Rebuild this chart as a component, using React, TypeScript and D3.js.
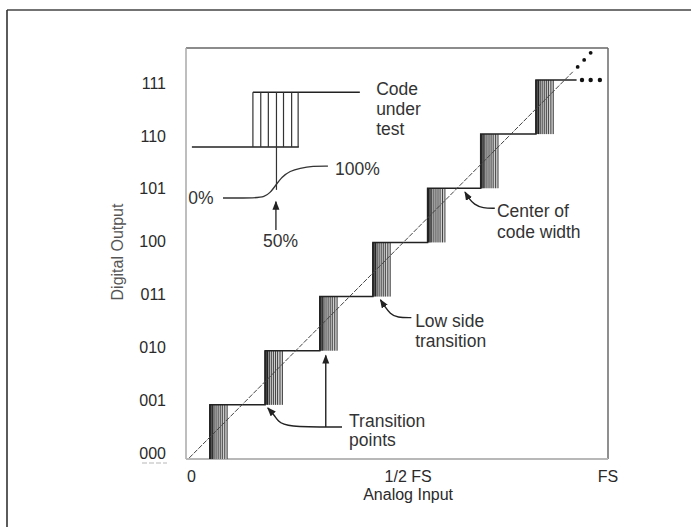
import React from "react";
import * as d3 from "d3";

// ---- data (x in LSB units of analog input, y in output code units) ----
const codeLabels = ["000", "001", "010", "011", "100", "101", "110", "111"];
const xTickLabels = ["0", "1/2 FS", "FS"];
const xTickValues = [0, 4, 7.69];
const transitionStarts = [0.34, 1.36, 2.37, 3.35, 4.36, 5.34, 6.36];
const transitionWidth = 0.32;
const hatchFractions = [0, 0.06, 0.14, 0.24, 0.36, 0.48, 0.6, 0.72, 0.86, 1.0];
const lastLevelEnd = 7.11;
const idealLine: [number, number][] = [[-0.04, 0.02], [7.04, 7.15]];
const extrapolationDots: [number, number][] = [[7.13, 7.24], [7.25, 7.37], [7.37, 7.5]];
const levelDots: [number, number][] = [[7.21, 7.0], [7.37, 7.0], [7.54, 7.0]];

// inset "code under test"
const insetUpper: [number, number][] = [[1.135, 6.775], [3.109, 6.775]];
const insetLower: [number, number][] = [[0.009, 5.76], [1.983, 5.76]];
const insetVerticals = [1.135, 1.28, 1.42, 1.57, 1.7, 1.85, 1.97];
const insetCenter = 1.57;
const insetCenterBottom = 4.97;
const insetCurve: [number, number][] = [
  [0.583, 4.82], [1.211, 4.82], [1.34, 4.84], [1.45, 4.91], [1.56, 5.06],
  [1.67, 5.21], [1.82, 5.32], [2.0, 5.37], [2.24, 5.41], [2.52, 5.41],
];
const fiftyArrow: [number, number][] = [[1.56, 4.23], [1.56, 4.75]];

// annotation leaders
const centerLeader: [number, number][] = [[5.6, 4.63], [5.38, 4.63], [5.22, 4.7], [5.12, 4.81], [5.05, 4.93]];
const lowSideLeader: [number, number][] = [[4.06, 2.61], [3.8, 2.61], [3.67, 2.68], [3.56, 2.83], [3.49, 2.94]];
const transLeaderA: [number, number][] = [[2.78, 0.59], [1.73, 0.59], [1.6, 0.7], [1.53, 0.81], [1.41, 0.94]];
const transLeaderB: [number, number][] = [[2.48, 0.59], [2.48, 1.91]];

type Note = { text: string; x: number; y: number };
const notes: Note[] = [
  { text: "Code", x: 3.41, y: 6.72 },
  { text: "under", x: 3.41, y: 6.35 },
  { text: "test", x: 3.41, y: 5.98 },
  { text: "0%", x: -0.06, y: 4.71 },
  { text: "100%", x: 2.65, y: 5.24 },
  { text: "50%", x: 1.32, y: 3.92 },
  { text: "Center of", x: 5.64, y: 4.46 },
  { text: "code width", x: 5.64, y: 4.09 },
  { text: "Low side", x: 4.13, y: 2.43 },
  { text: "transition", x: 4.13, y: 2.06 },
  { text: "Transition", x: 2.91, y: 0.6 },
  { text: "points", x: 2.91, y: 0.24 },
];

const W = 691;
const H = 527;
const plot = { left: 186, right: 608, top: 48, bottom: 459 };

export default function App() {
  const x = d3.scaleLinear().domain([-0.1, 7.69]).range([plot.left, plot.right]);
  const y = d3.scaleLinear().domain([0, 7.59]).range([plot.bottom, plot.top]);
  const yLabel = d3.scaleLinear().domain([0, 7]).range([453, 83]);
  const line = d3.line<[number, number]>().x((d) => x(d[0])).y((d) => y(d[1]));
  const smooth = d3.line<[number, number]>().x((d) => x(d[0])).y((d) => y(d[1])).curve(d3.curveBasis);

  // staircase
  const stairPts: [number, number][] = [];
  transitionStarts.forEach((t, i) => {
    stairPts.push([t, i]);
    stairPts.push([t, i + 1]);
    const next = i + 1 < transitionStarts.length ? transitionStarts[i + 1] : lastLevelEnd;
    stairPts.push([next, i + 1]);
  });

  const font = "'Liberation Sans', Arial, Helvetica, sans-serif";
  const ink = "#2a2a2a";

  return (
    <svg width={W} height={H} style={{ position: "absolute", left: 0, top: 0, background: "#fff" }}>
      <defs>
        <marker id="ah" markerUnits="userSpaceOnUse" markerWidth={10} markerHeight={8} refX={8} refY={3.5} orient="auto">
          <path d="M0,0 L9,3.5 L0,7 Z" fill="#222" />
        </marker>
      </defs>
      {/* outer frame */}
      <line x1={7} y1={10} x2={W + 5} y2={10} stroke="#444" strokeWidth={1.6} />
      <line x1={7} y1={10} x2={7} y2={H + 5} stroke="#333" strokeWidth={1.6} />

      {/* plot box */}
      <line x1={plot.left} y1={plot.top} x2={plot.right} y2={plot.top} stroke="#666" strokeWidth={1.5} />
      <line x1={plot.right} y1={plot.top} x2={plot.right} y2={plot.bottom} stroke="#6a6a6a" strokeWidth={1.5} />
      <line x1={plot.left} y1={plot.top} x2={plot.left} y2={plot.bottom} stroke="#a8a8a8" strokeWidth={1.5} />
      <line x1={plot.left} y1={plot.bottom} x2={plot.right} y2={plot.bottom} stroke="#b8b8b8" strokeWidth={2.2} />

      {/* transition bands */}
      {transitionStarts.map((t, i) => {
        const x0 = x(t);
        const x1 = x(t + transitionWidth);
        const yTop = y(i + 1);
        const yBot = y(i);
        return (
          <g key={"band" + i}>
            <rect x={x0} y={yTop} width={x1 - x0} height={yBot - yTop} fill="#cfcfcf" />
            {hatchFractions.map((f, j) => (
              <line
                key={j}
                x1={x0 + f * (x1 - x0)}
                x2={x0 + f * (x1 - x0)}
                y1={yTop}
                y2={yBot}
                stroke={j < 4 ? "#222" : "#444"}
                strokeWidth={j < 3 ? 1.3 : 1}
              />
            ))}
          </g>
        );
      })}

      {/* staircase */}
      <path d={line(stairPts) || ""} fill="none" stroke="#222" strokeWidth={1.5} />

      {/* ideal line */}
      <path d={line(idealLine) || ""} fill="none" stroke="#444" strokeWidth={1} strokeDasharray="5,1.5" />
      {extrapolationDots.map((d, i) => (
        <circle key={"ed" + i} cx={x(d[0])} cy={y(d[1])} r={1.9} fill="#111" />
      ))}
      {levelDots.map((d, i) => (
        <circle key={"ld" + i} cx={x(d[0])} cy={y(d[1])} r={2.2} fill="#111" />
      ))}

      {/* inset: code under test */}
      <path d={line(insetUpper) || ""} stroke="#222" strokeWidth={1.5} fill="none" />
      <path d={line(insetLower) || ""} stroke="#222" strokeWidth={1.5} fill="none" />
      {insetVerticals.map((v, i) => (
        <line
          key={"iv" + i}
          x1={x(v)}
          x2={x(v)}
          y1={y(insetUpper[0][1])}
          y2={y(v === insetCenter ? insetCenterBottom : insetLower[0][1])}
          stroke="#333"
          strokeWidth={1.2}
        />
      ))}
      <path d={smooth(insetCurve) || ""} stroke="#333" strokeWidth={1.3} fill="none" />
      <path d={line(fiftyArrow) || ""} stroke="#222" strokeWidth={1.3} fill="none" markerEnd="url(#ah)" />

      {/* annotation leaders */}
      <path d={smooth(centerLeader) || ""} stroke="#222" strokeWidth={1.4} fill="none" markerEnd="url(#ah)" />
      <path d={smooth(lowSideLeader) || ""} stroke="#222" strokeWidth={1.4} fill="none" markerEnd="url(#ah)" />
      <path d={smooth(transLeaderA) || ""} stroke="#222" strokeWidth={1.4} fill="none" markerEnd="url(#ah)" />
      <path d={line(transLeaderB) || ""} stroke="#222" strokeWidth={1.4} fill="none" markerEnd="url(#ah)" />

      {/* notes */}
      {notes.map((n, i) => (
        <text key={"n" + i} x={x(n.x)} y={y(n.y)} fontFamily={font} fontSize={17.5} fill="#333">
          {n.text}
        </text>
      ))}

      {/* y tick labels */}
      {codeLabels.map((c, i) => (
        <text key={"yl" + i} x={166} y={yLabel(i)} dy="0.36em" textAnchor="end" fontFamily={font} fontSize={16} fill={ink}>
          {c}
        </text>
      ))}
      <line x1={142} x2={167} y1={463} y2={463} stroke="#d0d0d0" strokeWidth={1.5} strokeDasharray="5,2" />

      {/* x tick labels */}
      {xTickLabels.map((l, i) => (
        <text key={"xl" + i} x={x(xTickValues[i])} y={482} textAnchor="middle" fontFamily={font} fontSize={16} fill={ink}>
          {l}
        </text>
      ))}
      <text x={x(4)} y={500} textAnchor="middle" fontFamily={font} fontSize={16} fill={ink}>
        Analog Input
      </text>
      <text
        transform={`translate(${123},${252}) rotate(-90)`}
        textAnchor="middle"
        fontFamily={font}
        fontSize={16}
        fill="#555"
      >
        Digital Output
      </text>
    </svg>
  );
}
